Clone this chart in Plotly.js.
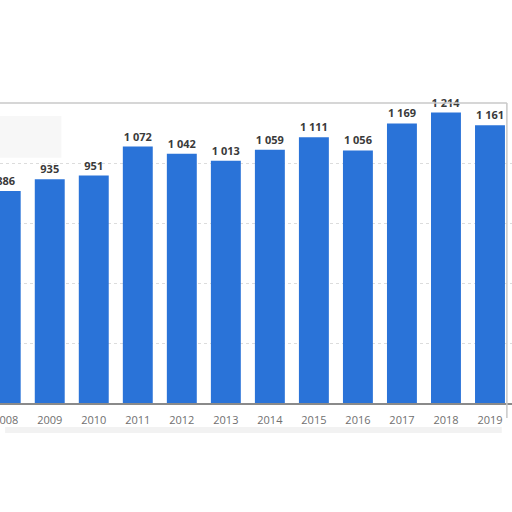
<!DOCTYPE html>
<html>
<head>
<meta charset="utf-8">
<script src="https://cdn.plot.ly/plotly-3.0.1.min.js"></script>
<style>
  html, body { margin: 0; padding: 0; background: #fff; }
  #chart { width: 512px; height: 512px; }
</style>
</head>
<body>
<div id="chart"></div>
<script>
// yearly values
const years = ['2008', '2009', '2010', '2011', '2012', '2013', '2014', '2015', '2016', '2017', '2018', '2019'];
const values = [886, 935, 951, 1072, 1042, 1013, 1059, 1111, 1056, 1169, 1214, 1161];

const BAR_BLUE = '#2a73d8';

Plotly.newPlot('chart', [{
  x: years, y: values, type: 'bar',
  marker: { color: BAR_BLUE },
  texttemplate: '%{y:,d}', textposition: 'outside',
  textfont: { family: 'Open Sans, sans-serif', size: 11, color: '#3a3a3a', weight: 700 },
  cliponaxis: false,
  hoverinfo: 'none',
}], {
  width: 512, height: 512,
  paper_bgcolor: '#fff', plot_bgcolor: '#fff',
  separators: ', ',
  margin: { l: 0, r: 0, t: 104, b: 109 },
  bargap: 0.32,
  showlegend: false,
  font: { family: 'Open Sans, sans-serif' },
  xaxis: {
    type: 'category', range: [-0.13, 11.5],
    showgrid: false, showline: true, linecolor: '#8a8a8a', linewidth: 2,
    ticks: 'outside', ticklen: 6, tickcolor: 'rgba(0,0,0,0)',
    tickfont: { size: 11, color: '#707070' },
  },
  yaxis: {
    range: [0, 1250], dtick: 250, showticklabels: false,
    showgrid: true, gridcolor: '#dcdcdc', griddash: 'dot', gridwidth: 1,
    zeroline: false, showline: false,
  },
  shapes: [
    // frame around the plot (screenshot border)
    { type: 'line', xref: 'paper', yref: 'paper', x0: 0, x1: 0.99, y0: 1.003, y1: 1.003,
      line: { color: '#c8c8c8', width: 1.5 } },
    { type: 'line', xref: 'paper', yref: 'paper', x0: 0.99, x1: 0.99, y0: 1.003, y1: -0.05,
      line: { color: '#c8c8c8', width: 1.5 } },
    { type: 'rect', xref: 'paper', yref: 'paper', x0: 0.01, x1: 0.98, y0: -0.1, y1: -0.08,
      fillcolor: 'rgba(150,150,150,0.12)', line: { width: 0 } },
    // blurred patch top-left
    { type: 'rect', xref: 'paper', yref: 'paper', x0: 0, x1: 0.12, y0: 0.82, y1: 0.96,
      fillcolor: 'rgba(200,200,200,0.14)', line: { width: 0 } },
  ],
}, { displayModeBar: false, staticPlot: true });
</script>
</body>
</html>
